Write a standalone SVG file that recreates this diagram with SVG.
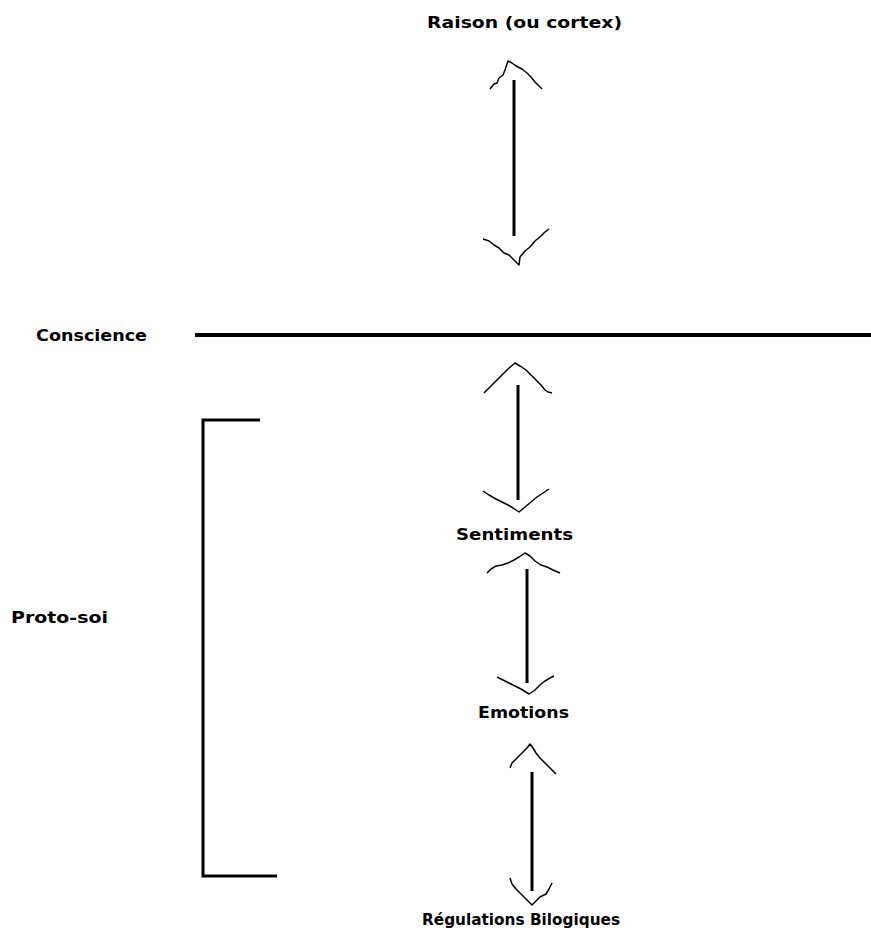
<svg xmlns="http://www.w3.org/2000/svg" width="871" height="938" viewBox="0 0 871 938">
<style>
.lbl{font-family:"DejaVu Sans","Liberation Sans",sans-serif;font-weight:bold;font-size:15px;fill:#000}
.shaft{stroke:#000;stroke-width:3;fill:none}
.head{stroke:#000;stroke-width:1.5;fill:none;stroke-linejoin:round}
.brk{stroke:#000;stroke-width:3;fill:none}
</style>
<rect width="871" height="938" fill="#fff"/>
<g id="raison"><text class="lbl" x="427" y="28" textLength="195" lengthAdjust="spacingAndGlyphs">Raison (ou cortex)</text></g>
<g id="conscience"><text class="lbl" x="36" y="341" textLength="111" lengthAdjust="spacingAndGlyphs">Conscience</text>
<line x1="195" y1="335" x2="871" y2="335" stroke="#000" stroke-width="4"/></g>
<g id="proto-soi"><text class="lbl" x="11" y="623" textLength="97" lengthAdjust="spacingAndGlyphs">Proto-soi</text>
<polyline class="brk" points="260,420 203,420 203,876 277,876"/></g>
<g id="sentiments"><text class="lbl" x="456" y="540" textLength="117" lengthAdjust="spacingAndGlyphs">Sentiments</text></g>
<g id="emotions"><text class="lbl" x="478" y="718" textLength="91" lengthAdjust="spacingAndGlyphs">Emotions</text></g>
<g id="regulations"><text class="lbl" x="422" y="925" textLength="198" lengthAdjust="spacingAndGlyphs">Régulations Bilogiques</text></g>
<g id="connectors">
<line class="shaft" x1="514" y1="80" x2="514" y2="236"/>
<polyline class="head" points="490,89 494,84 497,83 499,78 503,75 505,70 508,61 512,63 516,66 522,69 527,73 531,77 535,82 538,85 542,89"/>
<polyline class="head" points="483,239 489,241 494,245 499,248 504,253 509,255 513,259 519,265 520,257 525,251 530,247 535,241 541,236 545,232 549,229"/>
<line class="shaft" x1="518" y1="385" x2="518" y2="500"/>
<polyline class="head" points="484,393 490,387 496,381 502,375 508,369 515,363 520,366 526,370 532,376 537,381 541,385 545,390 548,392 552,393"/>
<polyline class="head" points="483,491 489,495 496,499 502,502 508,505 513,508 519,512 525,507 531,502 537,497 543,493 549,489"/>
<line class="shaft" x1="527" y1="569" x2="527" y2="683"/>
<polyline class="head" points="487,573 491,569 496,566 502,565 508,563 514,560 519,557 525,553 530,556 535,561 541,565 547,567 553,570 560,573"/>
<polyline class="head" points="497,677 503,680 509,683 515,686 521,689 529,694 535,690 540,685 545,681 550,678 554,676"/>
<line class="shaft" x1="532" y1="772" x2="532" y2="891"/>
<polyline class="head" points="510,768 512,763 516,759 520,755 524,751 527,748 530,744 533,748 536,753 540,758 545,763 550,768 556,774"/>
<polyline class="head" points="510,878 512,884 516,889 520,893 524,897 528,901 532,905 536,901 540,897 546,894 549,889 552,883"/>
</g>
</svg>
